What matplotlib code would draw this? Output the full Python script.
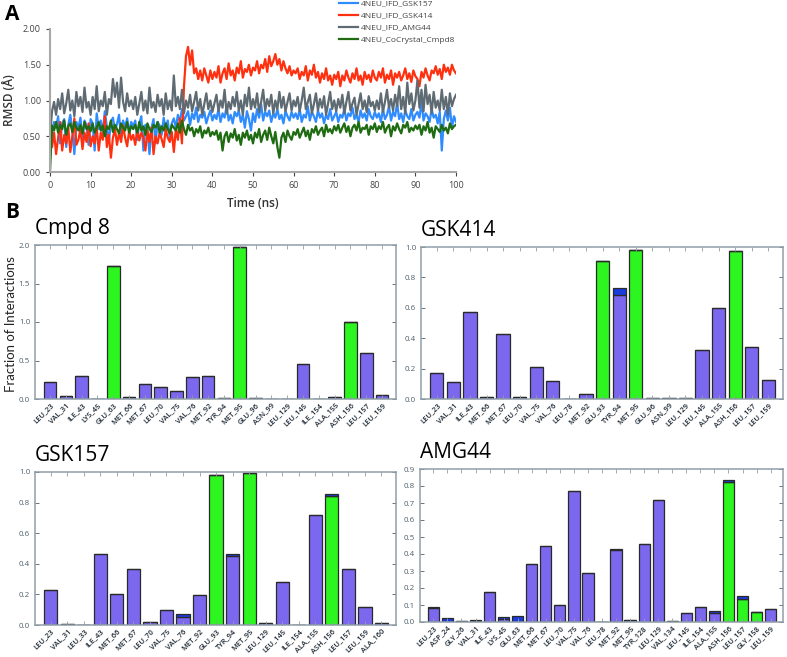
import numpy as np
import matplotlib
matplotlib.use("Agg")
import matplotlib.pyplot as plt

plt.rcParams['font.family'] = ['Open Sans', 'DejaVu Sans']

# ---------------- Panel A data (RMSD, sampled every 0.5 ns) ----------------
time_ns = np.arange(0, 100.01, 0.5)

rmsd_gsk157 = [0.30,
    0.55, 0.70, 0.62, 0.78, 0.40, 0.68, 0.74, 0.35, 0.66, 0.80, 0.58, 0.25, 0.70, 0.62, 0.76, 0.45, 0.72, 0.65, 0.38, 0.74,
    0.68, 0.30, 0.82, 0.60, 0.72, 0.55, 0.85, 0.64, 0.42, 0.70, 0.76, 0.58, 0.67, 0.80, 0.48, 0.72, 0.62, 0.75, 0.55, 0.70,
    0.64, 0.72, 0.45, 0.68, 0.78, 0.30, 0.66, 0.58, 0.25, 0.62, 0.74, 0.40, 0.70, 0.65, 0.52, 0.76, 0.60, 0.72, 0.48, 0.68,
    0.75, 0.62, 0.80, 0.70, 0.88, 0.72, 0.78, 0.85, 0.66, 0.82, 0.74, 0.90, 0.70, 0.80, 0.76, 0.84, 0.68, 0.78, 0.86, 0.72,
    0.80, 0.74, 0.88, 0.70, 0.82, 0.76, 0.92, 0.72, 0.80, 0.68, 0.84, 0.78, 0.86, 0.70, 0.80, 0.62, 0.85, 0.74, 0.58, 0.82,
    0.70, 0.88, 0.76, 0.95, 0.72, 0.84, 0.78, 0.86, 0.70, 0.82, 0.76, 0.88, 0.74, 0.80, 0.68, 0.85, 0.78, 0.72, 0.84, 0.76,
    0.82, 0.74, 0.88, 0.70, 0.80, 0.76, 0.92, 0.72, 0.84, 0.78, 0.70, 0.86, 0.76, 0.82, 0.68, 0.80, 0.74, 0.88, 0.72, 0.78,
    0.84, 0.70, 0.80, 0.76, 0.88, 0.72, 0.82, 0.78, 0.90, 0.74, 0.80, 0.70, 0.86, 0.76, 0.82, 0.72, 0.88, 0.78, 0.74, 0.84,
    0.76, 0.82, 0.70, 0.88, 0.74, 0.80, 0.92, 0.72, 0.84, 0.78, 0.96, 0.74, 0.82, 0.70, 0.86, 0.78, 0.74, 0.88, 0.72, 0.80,
    0.84, 0.76, 0.98, 0.72, 0.82, 0.78, 0.70, 0.88, 0.76, 0.80, 0.68, 0.84, 0.30, 0.74, 0.86, 0.72, 0.90, 0.62, 0.78, 0.70]

rmsd_gsk414 = [0.45,
    0.35, 0.55, 0.25, 0.48, 0.70, 0.30, 0.52, 0.40, 0.62, 0.28, 0.50, 0.75, 0.38, 0.45, 0.60, 0.32, 0.55, 0.42, 0.68, 0.36,
    0.50, 0.40, 0.62, 0.30, 0.55, 0.45, 0.78, 0.35, 0.52, 0.20, 0.48, 0.60, 0.38, 0.55, 0.42, 0.65, 0.48, 0.36, 0.58, 0.45,
    0.52, 0.38, 0.60, 0.44, 0.55, 0.48, 0.30, 0.58, 0.42, 0.62, 0.25, 0.50, 0.40, 0.55, 0.46, 0.35, 0.60, 0.48, 0.42, 0.56,
    0.28, 0.60, 0.45, 0.75, 0.40, 1.20, 1.62, 1.75, 1.50, 1.70, 1.38, 1.45, 1.30, 1.42, 1.28, 1.45, 1.35, 1.25, 1.42, 1.30,
    1.40, 1.32, 1.48, 1.25, 1.38, 1.45, 1.30, 1.52, 1.35, 1.42, 1.28, 1.46, 1.38, 1.55, 1.32, 1.44, 1.40, 1.50, 1.35, 1.46,
    1.42, 1.55, 1.38, 1.50, 1.45, 1.58, 1.40, 1.62, 1.48, 1.55, 1.65, 1.50, 1.58, 1.42, 1.55, 1.45, 1.38, 1.48, 1.35, 1.42,
    1.38, 1.45, 1.30, 1.40, 1.35, 1.48, 1.28, 1.42, 1.36, 1.50, 1.32, 1.40, 1.25, 1.38, 1.30, 1.45, 1.28, 1.35, 1.22, 1.36,
    1.30, 1.40, 1.20, 1.35, 1.28, 1.42, 1.32, 1.25, 1.38, 1.30, 1.45, 1.28, 1.35, 1.22, 1.40, 1.30, 1.36, 1.26, 1.42, 1.32,
    1.28, 1.40, 1.32, 1.45, 1.25, 1.36, 1.30, 1.42, 1.22, 1.38, 1.32, 1.40, 1.28, 1.35, 1.45, 1.30, 1.38, 1.26, 1.42, 1.34,
    1.30, 1.20, 1.40, 1.32, 1.45, 1.35, 1.28, 1.42, 1.38, 1.48, 1.36, 1.44, 1.30, 1.50, 1.40, 1.46, 1.36, 1.50, 1.42, 1.38]

rmsd_amg44 = [0.50,
    0.85, 0.98, 0.80, 1.02, 0.88, 1.10, 0.82, 0.96, 1.15, 0.86, 1.00, 0.78, 1.12, 0.92, 1.05, 0.84, 1.18, 0.90, 0.98, 0.80,
    1.05, 0.88, 1.20, 0.85, 1.00, 0.92, 1.12, 0.80, 1.02, 0.95, 1.30, 1.05, 1.25, 0.90, 1.32, 0.98, 0.85, 1.10, 0.92, 1.00,
    0.88, 1.05, 0.80, 0.96, 1.12, 0.86, 1.00, 0.82, 1.18, 0.90, 0.98, 0.84, 1.08, 0.92, 1.02, 0.80, 1.10, 0.88, 1.00, 0.86,
    1.35, 0.92, 1.05, 0.88, 1.15, 0.82, 1.00, 0.90, 1.08, 0.85, 0.98, 1.12, 0.86, 1.02, 0.80, 0.95, 1.10, 0.88, 1.00, 0.84,
    0.96, 1.08, 0.85, 1.00, 0.90, 1.15, 0.82, 0.98, 0.88, 1.05, 0.92, 1.12, 0.86, 1.00, 0.80, 1.08, 0.92, 1.18, 0.88, 1.02,
    0.90, 1.10, 0.84, 0.98, 1.15, 0.86, 1.02, 0.92, 1.08, 0.82, 1.00, 0.88, 1.12, 0.90, 1.05, 0.85, 0.98, 1.10, 0.86, 1.00,
    0.92, 1.05, 0.85, 1.00, 1.18, 0.88, 0.98, 1.08, 0.82, 0.95, 1.10, 0.86, 1.02, 0.90, 1.06, 0.80, 0.96, 1.12, 0.88, 1.00,
    0.85, 1.02, 0.90, 1.08, 0.82, 0.98, 1.12, 0.86, 0.96, 1.04, 0.80, 0.95, 1.10, 0.88, 1.00, 0.84, 1.06, 0.92, 0.98, 0.86,
    1.00, 0.88, 1.10, 0.84, 0.98, 1.15, 0.90, 1.02, 0.86, 1.08, 0.92, 1.20, 0.88, 1.05, 0.82, 1.25, 0.95, 1.10, 0.86, 1.00,
    1.28, 0.90, 1.15, 0.85, 1.22, 0.95, 1.08, 0.82, 1.12, 0.90, 1.00, 0.86, 1.15, 0.88, 1.05, 0.80, 1.10, 0.92, 1.02, 1.08]

rmsd_cmpd8 = [0.00,
    0.65, 0.58, 0.70, 0.55, 0.66, 0.60, 0.72, 0.52, 0.64, 0.68, 0.56, 0.70, 0.62, 0.58, 0.66, 0.54, 0.70, 0.60, 0.64, 0.57,
    0.68, 0.55, 0.62, 0.70, 0.58, 0.65, 0.50, 0.64, 0.60, 0.72, 0.56, 0.66, 0.60, 0.54, 0.68, 0.62, 0.58, 0.70, 0.55, 0.64,
    0.60, 0.66, 0.55, 0.70, 0.58, 0.64, 0.52, 0.68, 0.60, 0.56, 0.66, 0.62, 0.70, 0.55, 0.64, 0.58, 0.68, 0.60, 0.54, 0.66,
    0.62, 0.58, 0.68, 0.55, 0.72, 0.60, 0.52, 0.66, 0.58, 0.62, 0.50, 0.60, 0.55, 0.64, 0.48, 0.58, 0.54, 0.62, 0.50, 0.56,
    0.52, 0.58, 0.45, 0.55, 0.30, 0.50, 0.56, 0.42, 0.54, 0.48, 0.60, 0.44, 0.52, 0.38, 0.55, 0.48, 0.58, 0.45, 0.52, 0.40,
    0.55, 0.48, 0.60, 0.42, 0.52, 0.58, 0.45, 0.62, 0.50, 0.40, 0.56, 0.35, 0.20, 0.48, 0.55, 0.42, 0.58, 0.50, 0.45, 0.56,
    0.52, 0.60, 0.48, 0.55, 0.62, 0.50, 0.58, 0.45, 0.60, 0.55, 0.64, 0.52, 0.58, 0.62, 0.50, 0.66, 0.56, 0.60, 0.54, 0.64,
    0.58, 0.66, 0.55, 0.62, 0.68, 0.56, 0.64, 0.50, 0.62, 0.66, 0.58, 0.70, 0.55, 0.62, 0.60, 0.66, 0.52, 0.64, 0.60, 0.68,
    0.56, 0.64, 0.60, 0.70, 0.55, 0.62, 0.66, 0.50, 0.64, 0.58, 0.68, 0.60, 0.54, 0.66, 0.62, 0.70, 0.56, 0.62, 0.58, 0.65,
    0.60, 0.66, 0.52, 0.64, 0.58, 0.70, 0.55, 0.62, 0.48, 0.64, 0.60, 0.56, 0.66, 0.58, 0.62, 0.54, 0.68, 0.60, 0.64, 0.66]

series_labels = ['4NEU_IFD_GSK157', '4NEU_IFD_GSK414', '4NEU_IFD_AMG44', '4NEU_CoCrystal_Cmpd8']
series_colors = ['#2f8cff', '#ff3010', '#5f6b73', '#1e6b12']

# ---------------- Panel B data (fraction of interactions) ----------------
res_cmpd8 = ['LEU_23', 'VAL_31', 'ILE_43', 'LYS_45', 'GLU_63', 'MET_66', 'MET_67', 'LEU_70', 'VAL_75', 'VAL_76',
             'MET_92', 'TYR_94', 'MET_95', 'GLU_96', 'ASN_99', 'LEU_129', 'LEU_145', 'ILE_154', 'ALA_155', 'ASH_156',
             'LEU_157', 'LEU_159']
hb_cmpd8 = [0, 0, 0, 0, 1.73, 0, 0, 0, 0, 0, 0, 0, 1.98, 0, 0, 0, 0, 0, 0, 1.0, 0, 0]
hp_cmpd8 = [0.22, 0.035, 0.30, 0.004, 0, 0.02, 0.20, 0.15, 0.11, 0.29, 0.30, 0.013, 0, 0.01, 0.005, 0.004, 0.45,
            0.004, 0.02, 0, 0.595, 0.052]
wb_cmpd8 = [0] * 22

res_gsk414 = ['LEU_23', 'VAL_31', 'ILE_43', 'MET_66', 'MET_67', 'LEU_70', 'VAL_75', 'VAL_76', 'LEU_78', 'MET_92',
              'GLU_93', 'TYR_94', 'MET_95', 'GLU_96', 'ASN_99', 'LEU_129', 'LEU_145', 'ALA_155', 'ASH_156', 'LEU_157',
              'LEU_159']
hb_gsk414 = [0, 0, 0, 0, 0, 0, 0, 0, 0, 0, 0.905, 0, 0.982, 0, 0, 0, 0, 0, 0.971, 0, 0]
hp_gsk414 = [0.169, 0.113, 0.575, 0.016, 0.43, 0.016, 0.209, 0.116, 0.003, 0.036, 0, 0.686, 0, 0.004, 0.004, 0.004,
             0.322, 0.598, 0, 0.344, 0.124]
wb_gsk414 = [0, 0, 0, 0, 0, 0, 0, 0, 0, 0, 0, 0.044, 0, 0, 0.003, 0, 0, 0, 0, 0, 0]

res_gsk157 = ['LEU_23', 'VAL_31', 'LEU_33', 'ILE_43', 'MET_66', 'MET_67', 'LEU_70', 'VAL_75', 'VAL_76', 'MET_92',
              'GLU_93', 'TYR_94', 'MET_95', 'LEU_129', 'LEU_145', 'ILE_154', 'ALA_155', 'ASH_156', 'LEU_157', 'LEU_159',
              'ALA_160']
hb_gsk157 = [0, 0, 0, 0, 0, 0, 0, 0, 0, 0, 0.983, 0, 0.991, 0, 0, 0, 0, 0.843, 0, 0, 0]
hp_gsk157 = [0.228, 0.005, 0.003, 0.467, 0.20, 0.363, 0.022, 0.10, 0.05, 0.193, 0, 0.448, 0, 0.01, 0.28, 0.003, 0.72,
             0, 0.363, 0.12, 0.012]
wb_gsk157 = [0, 0, 0, 0, 0, 0, 0, 0, 0.022, 0, 0, 0.017, 0, 0, 0, 0, 0, 0.016, 0, 0, 0]

res_amg44 = ['LEU_23', 'ASP_24', 'GLY_26', 'VAL_31', 'ILE_43', 'LYS_45', 'GLU_63', 'MET_66', 'MET_67', 'LEU_70',
             'VAL_75', 'VAL_76', 'LEU_78', 'MET_92', 'MET_95', 'TYR_128', 'LEU_129', 'VAL_134', 'LEU_145', 'ILE_154',
             'ALA_155', 'ASH_156', 'LEU_157', 'GLY_158', 'LEU_159']
hb_amg44 = [0, 0, 0, 0, 0, 0, 0, 0, 0, 0, 0, 0, 0, 0, 0, 0, 0, 0, 0, 0, 0, 0.824, 0.133, 0.059, 0]
hp_amg44 = [0.083, 0, 0.003, 0.007, 0.176, 0.018, 0, 0.343, 0.445, 0.098, 0.769, 0.29, 0.002, 0.424, 0.012, 0.461,
            0.72, 0.005, 0.055, 0.086, 0.055, 0, 0, 0, 0.076]
wb_amg44 = [0.005, 0.024, 0, 0.003, 0, 0.011, 0.037, 0, 0, 0, 0, 0, 0, 0.004, 0, 0, 0, 0, 0, 0, 0.008, 0.009, 0.022,
            0, 0]

C_HB = '#2cf51f'
C_HP = '#7b68ee'
C_WB = '#1a3cdc'
SPINE = '#8f9ea8'
TICKC = '#4f5f6b'

W, H = 787, 657
fig = plt.figure(figsize=(W / 100, H / 100), dpi=100)


def ax_px(x0, y0, x1, y1):
    return fig.add_axes([x0 / W, 1 - y1 / H, (x1 - x0) / W, (y1 - y0) / H])


# ---------------- Panel A ----------------
axA = ax_px(50, 29, 456, 172)
lines = []
for vals, lab, col in zip([rmsd_gsk157, rmsd_gsk414, rmsd_amg44, rmsd_cmpd8], series_labels, series_colors):
    ln, = axA.plot(time_ns, vals, color=col, lw=1.6, label=lab)
    lines.append(ln)
axA.set_xlim(0, 100)
axA.set_ylim(0, 2.0)
axA.set_xticks(np.arange(0, 101, 10))
axA.set_yticks([0, 0.5, 1.0, 1.5, 2.0])
axA.set_yticklabels(['0.00', '0.50', '1.00', '1.50', '2.00'])
for s in ['top', 'right']:
    axA.spines[s].set_visible(False)
for s in ['left', 'bottom']:
    axA.spines[s].set_color('#a8a8a8')
    axA.spines[s].set_linewidth(1.5)
axA.tick_params(labelsize=6.5, colors='#444444', length=3, width=0.8, direction='out')
axA.set_xlabel('Time (ns)', fontsize=8.5, fontweight='semibold', color='#333333', labelpad=5)
axA.set_ylabel('RMSD (Å)', fontsize=8.5, fontweight='semibold', color='#333333', labelpad=5)
fig.legend(handles=lines, loc='upper left', bbox_to_anchor=(333 / W, 1 + 6 / H), frameon=False,
           fontsize=6.0, handlelength=2.3, handletextpad=0.3, labelspacing=0.5, borderpad=0.2,
           labelcolor='#444444')

fig.text(5 / W, 1 - 14 / H, 'A', fontsize=15, fontweight='bold', va='center', ha='left')
fig.text(5 / W, 1 - 213 / H, 'B', fontsize=15, fontweight='bold', va='center', ha='left')


# ---------------- Panel B ----------------
def bar_panel(box, title, res, hb, hp, wb, ymax, yticks):
    ax = ax_px(*box)
    n = len(res)
    x = np.arange(n)
    hb = np.array(hb)
    hp = np.array(hp)
    wb = np.array(wb)
    kw = dict(width=0.8, edgecolor='#2a2a2a', linewidth=0.9)
    ax.bar(x, hb, color=C_HB, **kw)
    ax.bar(x, hp, bottom=hb, color=C_HP, **kw)
    ax.bar(x, wb, bottom=hb + hp, color=C_WB, **kw)
    ax.set_xlim(-0.95, n - 0.12)
    ax.set_ylim(0, ymax)
    ax.set_yticks(yticks)
    ax.set_yticklabels(['%.1f' % v for v in yticks])
    ax.set_xticks(x)
    ax.set_xticklabels(res, rotation=45, ha='right', rotation_mode='anchor', fontsize=5.4, color='#1f2a35',
                       fontweight='semibold')
    for s in ax.spines.values():
        s.set_color(SPINE)
        s.set_linewidth(1.1)
    ax.tick_params(axis='y', labelsize=5.8, colors=TICKC, direction='in', left=True, right=True, length=3,
                   width=0.6)
    ax.tick_params(axis='x', direction='in', top=True, bottom=True, length=3, width=0.6, color=SPINE, pad=2)
    ax.text(0.0, 1.04, title, transform=ax.transAxes, fontsize=15, ha='left', va='bottom', color='black')
    return ax


ax1 = bar_panel((35, 245, 396, 399), 'Cmpd 8', res_cmpd8, hb_cmpd8, hp_cmpd8, wb_cmpd8, 2.0,
                [0.0, 0.5, 1.0, 1.5, 2.0])
fig.text(11 / W, 1 - 324 / H, 'Fraction of Interactions', rotation=90, fontsize=9.5, color='#222222',
         ha='center', va='center', family=['Lato', 'DejaVu Sans'])
bar_panel((421, 247, 783, 399), 'GSK414', res_gsk414, hb_gsk414, hp_gsk414, wb_gsk414, 1.0,
          [0.0, 0.2, 0.4, 0.6, 0.8, 1.0])
bar_panel((35, 472, 396, 625), 'GSK157', res_gsk157, hb_gsk157, hp_gsk157, wb_gsk157, 1.0,
          [0.0, 0.2, 0.4, 0.6, 0.8, 1.0])
bar_panel((420, 469, 783, 622), 'AMG44', res_amg44, hb_amg44, hp_amg44, wb_amg44, 0.9,
          [0.0, 0.1, 0.2, 0.3, 0.4, 0.5, 0.6, 0.7, 0.8, 0.9])

fig.savefig('out.png', dpi=100)
